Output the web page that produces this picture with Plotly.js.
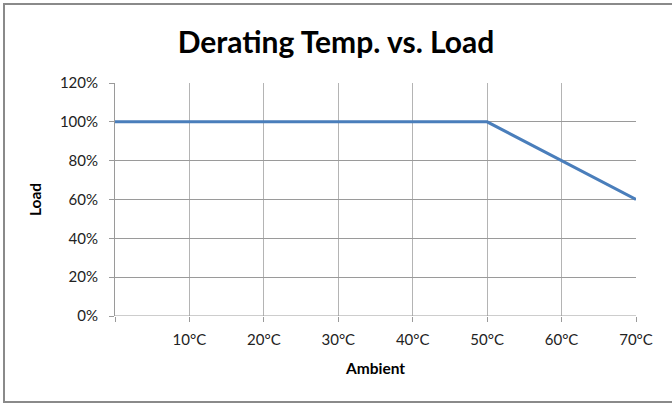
<!DOCTYPE html>
<html>
<head>
<meta charset="utf-8">
<script src="https://cdn.plot.ly/plotly-3.0.1.min.js"></script>
<style>
html,body{margin:0;padding:0;background:#fff;overflow:hidden;}
#chart{width:672px;height:403px;}
#frame{position:absolute;left:3px;top:3px;width:680px;height:396px;border:2px solid #8a8a8a;pointer-events:none;}
</style>
</head>
<body>
<div id="chart"></div>
<div id="frame"></div>
<script>
const ambient = [0, 10, 20, 30, 40, 50, 60, 70];
const load = [100, 100, 100, 100, 100, 100, 80, 60];
const xTickVals = [0, 10, 20, 30, 40, 50, 60, 70];
const xTickText = ['', '10°C', '20°C', '30°C', '40°C', '50°C', '60°C', '70°C'];
const yTickVals = [0, 20, 40, 60, 80, 100, 120];
const yTickText = ['0%', '20%', '40%', '60%', '80%', '100%', '120%'];

const trace = {
  x: ambient, y: load, type: 'scatter', mode: 'lines',
  line: {color: '#4a7ebb', width: 3},
  hoverinfo: 'skip'
};
const font = 'Lato, "Open Sans", sans-serif';
const layout = {
  width: 672, height: 403,
  margin: {l: 115, r: 36, t: 83, b: 87},
  paper_bgcolor: '#fff', plot_bgcolor: '#fff',
  showlegend: false,
  font: {family: font, size: 15, color: '#222'},
  title: {text: '<b>Derating Temp. vs. Load</b>', font: {family: font, size: 30, color: '#000'},
          x: 0.5, xanchor: 'center', y: 1 - 42/403, yanchor: 'middle'},
  xaxis: {
    range: [0, 70], tickvals: xTickVals, ticktext: xTickText,
    showgrid: true, gridcolor: '#b4b4b4', gridwidth: 1,
    zeroline: false, showline: false,
    ticks: 'outside', ticklen: 5, tickcolor: '#9a9a9a',
    ticklabelstandoff: 5,
    tickfont: {family: font, size: 15, color: '#222'},
    title: {text: '<b>Ambient</b>', font: {family: font, size: 15.5, color: '#000'}, standoff: 16}
  },
  yaxis: {
    range: [0, 120], tickvals: yTickVals, ticktext: yTickText,
    showgrid: true, gridcolor: '#9a9a9a', gridwidth: 1,
    zeroline: false, showline: true, linecolor: '#9a9a9a', linewidth: 1,
    ticks: 'outside', ticklen: 5, tickcolor: '#9a9a9a',
    ticklabelstandoff: 8,
    tickfont: {family: font, size: 15, color: '#222'},
    title: {text: '<b>Load</b>', font: {family: font, size: 15.5, color: '#000'}, standoff: 14}
  },
  shapes: [
    {type: 'line', xref: 'paper', yref: 'y', x0: 0, x1: 1, y0: 0, y1: 0, line: {color: '#9a9a9a', width: 1}, layer: 'above'}
  ]
};
Plotly.newPlot('chart', [trace], layout, {staticPlot: true, displayModeBar: false});
</script>
</body>
</html>
